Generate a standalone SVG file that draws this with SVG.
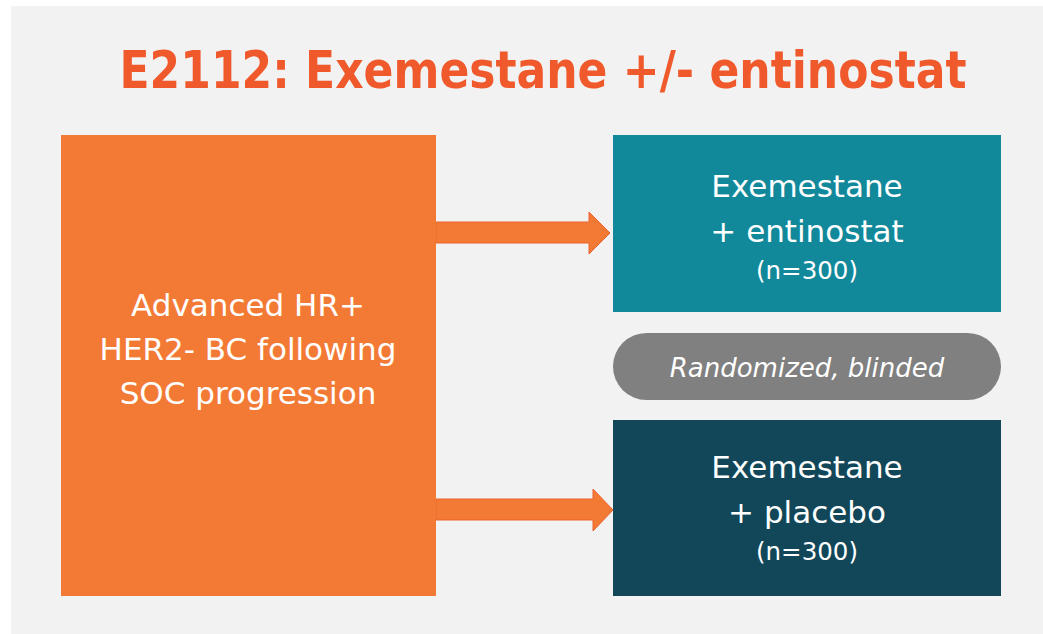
<svg xmlns="http://www.w3.org/2000/svg" width="1043" height="634" viewBox="0 0 1043 634">
  <style>
    .t { font-family: "DejaVu Sans", "Noto Sans", sans-serif; fill: #ffffff; text-anchor: middle; }
    .big { font-size: 31px; }
    .small { font-size: 24.5px; }
    .pill { font-size: 26px; font-style: italic; }
    .title { font-family: "DejaVu Sans Condensed", "DejaVu Sans", sans-serif; font-stretch: condensed; font-weight: bold; font-size: 51px; fill: #F0592B; text-anchor: middle; }
    .arrow { fill: #F37A35; stroke: #EE6230; stroke-width: 1; }
  </style>
  <rect x="0" y="0" width="1043" height="634" fill="#ffffff"/>
  <rect x="11" y="6" width="1032" height="628" fill="#F2F2F2"/>
  <text class="title" x="543" y="88" textLength="847" lengthAdjust="spacingAndGlyphs">E2112: Exemestane +/- entinostat</text>

  <g id="connectors">
    <polygon class="arrow" points="436,222 589,222 589,212 610,233 589,254 589,243 436,243"/>
    <polygon class="arrow" points="436,499 593,499 593,489 613,510 593,531 593,520 436,520"/>
  </g>

  <g id="population">
    <rect x="61" y="135" width="375" height="461" fill="#F37A35"/>
    <text class="t big" x="248" y="316">Advanced HR+</text>
    <text class="t big" x="248" y="360">HER2- BC following</text>
    <text class="t big" x="248" y="404">SOC progression</text>
  </g>

  <g id="arm-entinostat">
    <rect x="613" y="135" width="388" height="177" fill="#12889B"/>
    <text class="t big" x="807" y="197">Exemestane</text>
    <text class="t big" x="807" y="242">+ entinostat</text>
    <text class="t small" x="807" y="279">(n=300)</text>
  </g>

  <g id="randomized">
    <rect x="613" y="333" width="388" height="67" rx="33.5" ry="33.5" fill="#808080"/>
    <text class="t pill" x="807" y="377">Randomized, blinded</text>
  </g>

  <g id="arm-placebo">
    <rect x="613" y="420" width="388" height="176" fill="#124759"/>
    <text class="t big" x="807" y="478">Exemestane</text>
    <text class="t big" x="807" y="523">+ placebo</text>
    <text class="t small" x="807" y="560">(n=300)</text>
  </g>
</svg>
